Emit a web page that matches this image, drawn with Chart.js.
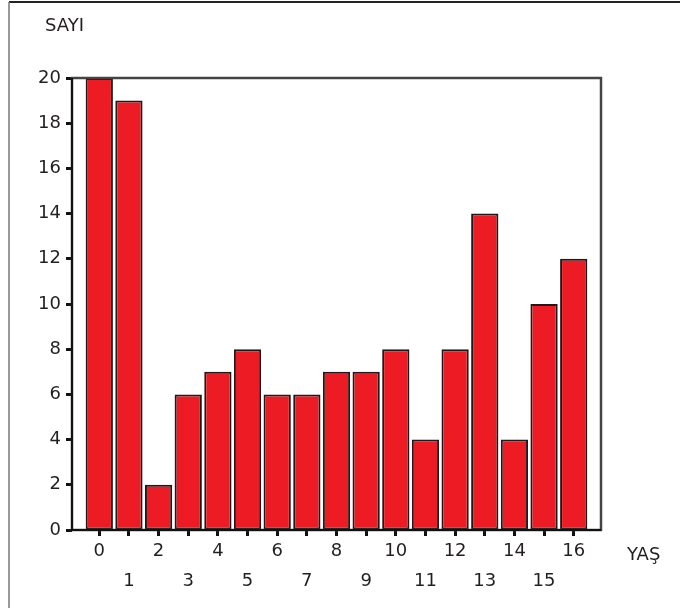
<!DOCTYPE html>
<html lang="tr">
<head>
<meta charset="UTF-8" />
<title>SAYI - YAŞ</title>
<style>
   html, body { margin: 0; padding: 0; background: #fff; }
   #wrap { position: relative; width: 680px; height: 608px; }
</style>
</head>
<body>
<div id="wrap">
   <canvas id="chart_yas"></canvas>
</div>
<script src="https://cdn.jsdelivr.net/npm/chart.js"></script>
<script>
   // yas (x) ve sayi (y) verileri
   const yaslar = [0, 1, 2, 3, 4, 5, 6, 7, 8, 9, 10, 11, 12, 13, 14, 15, 16];
   const sayilar = [20, 19, 2, 6, 7, 8, 6, 6, 7, 7, 8, 4, 8, 14, 4, 10, 12];
   const y_ticks = [0, 2, 4, 6, 8, 10, 12, 14, 16, 18, 20];

   const yazi_tipi = "'DejaVu Sans', sans-serif";
   const yazi_rengi = "#231f20";

   // cerceve ve eksen basliklari
   const cerceve_plugin = {
      id: "cerceve",
      beforeDraw(chart) {
         const ctx = chart.ctx;
         ctx.save();
         ctx.fillStyle = "#fff";
         ctx.fillRect(0, 0, chart.width, chart.height);
         ctx.strokeStyle = "#222";
         ctx.lineWidth = 2;
         ctx.beginPath();
         ctx.moveTo(9, 2);
         ctx.lineTo(chart.width, 2);
         ctx.stroke();
         ctx.strokeStyle = "#777";
         ctx.lineWidth = 1.5;
         ctx.beginPath();
         ctx.moveTo(9, 2);
         ctx.lineTo(9, chart.height);
         ctx.stroke();
         ctx.restore();
      },
      afterDatasetsDraw(chart) {
         const a = chart.chartArea;
         const ctx = chart.ctx;
         ctx.save();
         ctx.strokeStyle = "#444";
         ctx.lineWidth = 2.5;
         ctx.strokeRect(a.left, a.top, a.right - a.left, a.bottom - a.top);
         ctx.strokeStyle = "#111";
         ctx.lineWidth = 2;
         ctx.beginPath();
         ctx.moveTo(a.left, a.top);
         ctx.lineTo(a.left, a.bottom);
         ctx.lineTo(a.right, a.bottom);
         ctx.stroke();
         ctx.fillStyle = yazi_rengi;
         ctx.font = "18px " + yazi_tipi;
         ctx.textBaseline = "middle";
         ctx.textAlign = "left";
         ctx.fillText("SAYI", 45, 26);
         ctx.fillText("YAŞ", 627, 555);
         ctx.restore();
      },
   };

   const data_yas = {
      datasets: [
         {
            label: "SAYI",
            data: yaslar.map((y, i) => ({ x: y, y: sayilar[i] })),
            backgroundColor: "#ed1c24",
            borderColor: "#1e1a1b",
            borderWidth: 2,
            borderSkipped: false,
            barPercentage: 0.92,
            categoryPercentage: 1,
         },
      ],
   };

   const config_yas = {
      type: "bar",
      data: data_yas,
      plugins: [cerceve_plugin],
      options: {
         responsive: true,
         maintainAspectRatio: false,
         animation: false,
         layout: { padding: { left: 0, top: 78, right: 79, bottom: 0 } },
         plugins: {
            legend: { display: false },
            tooltip: { enabled: false },
         },
         scales: {
            x: {
               type: "linear",
               offset: false,
               min: -0.92,
               max: 16.92,
               afterBuildTicks: (scale) => {
                  scale.ticks = yaslar.map((v) => ({ value: v }));
               },
               afterFit: (scale) => {
                  scale.height = 78;
               },
               grid: {
                  offset: false,
                  drawOnChartArea: false,
                  drawTicks: true,
                  tickLength: 6,
                  tickWidth: 3,
                  tickColor: "#111",
               },
               border: { display: false },
               ticks: {
                  autoSkip: false,
                  maxRotation: 0,
                  padding: 0,
                  color: yazi_rengi,
                  font: { family: yazi_tipi, size: 18, lineHeight: "30px" },
                  callback: (v) => (v % 2 === 0 ? String(v) : ["", String(v)]),
               },
            },
            y: {
               min: 0,
               max: 20,
               afterBuildTicks: (scale) => {
                  scale.ticks = y_ticks.map((v) => ({ value: v }));
               },
               afterFit: (scale) => {
                  scale.width = 72;
               },
               grid: {
                  drawOnChartArea: false,
                  drawTicks: true,
                  tickLength: 6,
                  tickWidth: 3,
                  tickColor: "#111",
               },
               border: { display: false },
               ticks: {
                  padding: 5,
                  color: yazi_rengi,
                  font: { family: yazi_tipi, size: 18 },
               },
            },
         },
      },
   };

   const grafico_yas = new Chart(
      document.getElementById("chart_yas"),
      config_yas
   );
</script>
</body>
</html>
